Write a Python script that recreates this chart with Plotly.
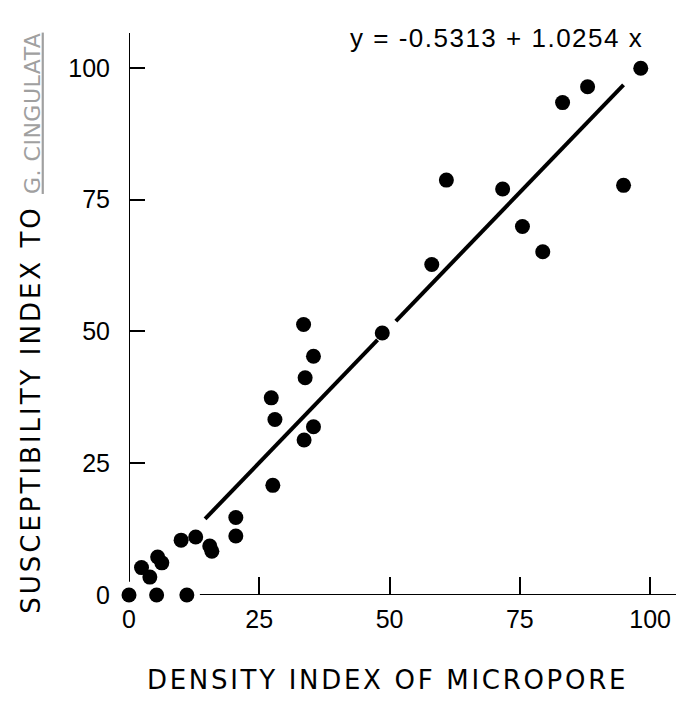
import plotly.graph_objects as go

# Data
density_index = [0, 5.3, 11.1, 2.4, 4.0, 5.5, 6.3, 10.0, 12.8, 15.5, 15.9, 20.5, 20.5,
                 27.6, 28.0, 27.3, 33.5, 35.4, 33.8, 35.4, 33.6, 48.6, 58.1, 60.9,
                 71.7, 75.5, 79.4, 83.2, 88.0, 94.9, 98.2]
susceptibility = [0, 0, 0, 5.2, 3.4, 7.2, 6.1, 10.4, 11.0, 9.3, 8.3, 14.7, 11.2,
                  20.8, 33.3, 37.4, 51.3, 45.3, 41.2, 31.9, 29.4, 49.7, 62.7, 78.7,
                  77.0, 69.9, 65.1, 93.4, 96.4, 77.7, 99.9]
intercept = -0.5313
slope = 1.0254
fit_segments = [[14.6, 47.7], [51.2, 94.9]]
tick_vals = [0, 25, 50, 75, 100]
tick_text = ["0", "25", "50", "75", "100"]

fig = go.Figure()
for seg in fit_segments:
    fig.add_trace(go.Scatter(
        x=seg, y=[intercept + slope * v for v in seg], mode="lines",
        line=dict(color="black", width=4), showlegend=False, hoverinfo="skip"))
fig.add_trace(go.Scatter(
    x=density_index, y=susceptibility, mode="markers",
    marker=dict(color="black", size=15, line=dict(width=0)),
    cliponaxis=False, showlegend=False))

xr = [0, 106.5]
yr = [0, 106.6]
# axis lines (broken near origin as in reference)
fig.add_shape(type="line", x0=0, x1=0, y0=2.5, y1=yr[1], xref="x", yref="y",
              line=dict(color="black", width=2))
fig.add_shape(type="line", x0=13.6, x1=xr[1], y0=0, y1=0, xref="x", yref="y",
              line=dict(color="black", width=2))

tick_font = dict(family="Liberation Sans", size=25, color="black")
fig.update_xaxes(range=xr, tickvals=tick_vals, ticktext=tick_text, ticks="inside",
                 ticklen=18, tickwidth=2, tickcolor="black", showgrid=False,
                 zeroline=False, showline=False, tickfont=tick_font, ticklabelstandoff=7)
fig.update_yaxes(range=yr, tickvals=tick_vals, ticktext=tick_text, ticks="inside",
                 ticklen=16, tickwidth=2, tickcolor="black", showgrid=False,
                 zeroline=False, showline=False, tickfont=tick_font, ticklabelstandoff=18)

title_font = dict(family="DejaVu Sans", size=26, color="black")
fig.add_annotation(text='<span style="letter-spacing:2.7px">DENSITY INDEX OF MICROPORE</span>',
                   xref="paper", yref="paper",
                   x=0.465, y=-0.151, xanchor="center", yanchor="middle",
                   showarrow=False, font=title_font)
fig.add_annotation(
    text='<span style="letter-spacing:3px">SUSCEPTIBILITY INDEX TO </span>'
         '<span style="letter-spacing:0.5px;font-size:22px;color:#a0a0a0;text-decoration:underline">G. CINGULATA</span>',
    xref="paper", yref="paper", x=-0.178, y=0.483, xanchor="center", yanchor="middle",
    textangle=-90, showarrow=False, font=title_font)
fig.add_annotation(text='<span style="letter-spacing:1.5px">y = -0.5313 + 1.0254 x</span>',
                   xref="paper", yref="paper",
                   x=0.93, y=0.991, xanchor="right", yanchor="middle",
                   showarrow=False, font=dict(family="Liberation Sans", size=26, color="black"))

fig.update_layout(width=676, height=696, margin=dict(l=121, r=0, t=25, b=109),
                  plot_bgcolor="white", paper_bgcolor="white")
fig.write_html("out.html")
